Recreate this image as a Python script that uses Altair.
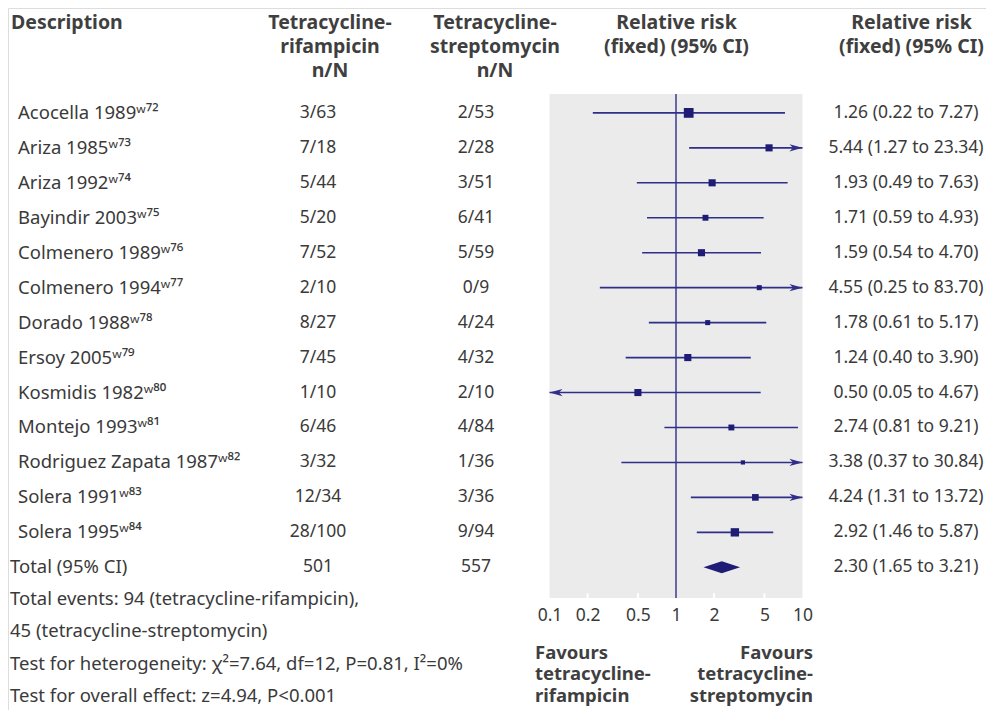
import altair as alt
import pandas as pd
import numpy as np

# ---------------- data ----------------
studies = ["Acocella 1989", "Ariza 1985", "Ariza 1992", "Bayindir 2003",
           "Colmenero 1989", "Colmenero 1994", "Dorado 1988", "Ersoy 2005",
           "Kosmidis 1982", "Montejo 1993", "Rodriguez Zapata 1987",
           "Solera 1991", "Solera 1995"]
refs = ["w72", "w73", "w74", "w75", "w76", "w77", "w78", "w79", "w80",
        "w81", "w82", "w83", "w84"]
rif_n = [3, 7, 5, 5, 7, 2, 8, 7, 1, 6, 3, 12, 28]
rif_N = [63, 18, 44, 20, 52, 10, 27, 45, 10, 46, 32, 34, 100]
strep_n = [2, 2, 3, 6, 5, 0, 4, 4, 2, 4, 1, 3, 9]
strep_N = [53, 28, 51, 41, 59, 9, 24, 32, 10, 84, 36, 36, 94]
rr = [1.26, 5.44, 1.93, 1.71, 1.59, 4.55, 1.78, 1.24, 0.50, 2.74, 3.38, 4.24, 2.92]
rr_lo = [0.22, 1.27, 0.49, 0.59, 0.54, 0.25, 0.61, 0.40, 0.05, 0.81, 0.37, 1.31, 1.46]
rr_hi = [7.27, 23.34, 7.63, 4.93, 4.70, 83.70, 5.17, 3.90, 4.67, 9.21, 30.84, 13.72, 5.87]
weight = [15.0, 8.0, 8.0, 5.5, 8.0, 4.0, 4.0, 8.0, 8.0, 5.5, 2.8, 7.0, 11.0]

total_label = "Total (95% CI)"
total_rr = [2.30, 1.65, 3.21]
axis_ticks = [0.1, 0.2, 0.5, 1, 2, 5, 10]
axis_domain = [0.1, 10]

notes = ["Total events: 94 (tetracycline-rifampicin),",
         "\u00a045 (tetracycline-streptomycin)",
         "Test for heterogeneity: \u03c7\u00b2=7.64, df=12, P=0.81, I\u00b2=0%",
         "Test for overall effect: z=4.94, P<0.001"]

# ---------------- styling ----------------
FONT = "Noto Sans"
FS = 18.5     # descriptive text
NFS = 17.5    # numeric columns
HFS = 19.5    # headers
TXT = "#3a3a3a"
HDR = "#3f3f3f"
NAVY = "#1e1c74"
LINE = "#2f2e88"
BG = "#ebebeb"
W, H = 978, 702

SUP = str.maketrans("0123456789w", "\u2070\u00b9\u00b2\u00b3\u2074\u2075\u2076\u2077\u2078\u2079\u02b7")

n = len(studies)
df = pd.DataFrame({
    "row": np.arange(1, n + 1),
    "label": [s + r.translate(SUP) for s, r in zip(studies, refs)],
    "rif": [f"{a}/{b}" for a, b in zip(rif_n, rif_N)],
    "strep": [f"{a}/{b}" for a, b in zip(strep_n, strep_N)],
    "rr": rr, "lo": rr_lo, "hi": rr_hi, "weight": weight,
})
df["rrtxt"] = [f"{a:.2f} ({b:.2f} to {c:.2f})" for a, b, c in zip(rr, rr_lo, rr_hi)]
df["lo_c"] = np.clip(df["lo"], axis_domain[0], axis_domain[1])
df["hi_c"] = np.clip(df["hi"], axis_domain[0], axis_domain[1])

total_row = n + 1
tot = pd.DataFrame({"row": [total_row], "label": [total_label],
                    "rif": [str(sum(rif_N))], "strep": [str(sum(strep_N))],
                    "rrtxt": [f"{total_rr[0]:.2f} ({total_rr[1]:.2f} to {total_rr[2]:.2f})"]})

right_arrows = df[df["hi"] > axis_domain[1]].assign(xa=axis_domain[1])
left_arrows = df[df["lo"] < axis_domain[0]].assign(xa=axis_domain[0])

half = 0.17
diamond = pd.DataFrame({"x": [total_rr[1], total_rr[0], total_rr[2]],
                        "y1": [total_row, total_row - half, total_row],
                        "y2": [total_row, total_row + half, total_row]})

box = pd.DataFrame({"x1": [axis_domain[0]], "x2": [axis_domain[1]],
                    "y1": [0.46], "y2": [14.88]})
inner_ticks = pd.DataFrame({"t": [t for t in axis_ticks if t not in (0.1, 1, 10)],
                            "y1": [14.74] * 4, "y2": [14.88] * 4})

# ---------------- scales ----------------
xs = alt.Scale(type="log", domain=axis_domain, range=[541.5, 794.5], nice=False)
ys = alt.Scale(domain=[1, 14], range=[104.9, 559.3], nice=False, zero=False)

def Y(f="row"):
    return alt.Y(f"{f}:Q", scale=ys, axis=None)

# ---------------- forest plot layers ----------------
bg = alt.Chart(box).mark_rect(color=BG).encode(
    x=alt.X("x1:Q", scale=xs,
            axis=alt.Axis(values=axis_ticks, format="~g", domain=False, ticks=False,
                          tickSize=0, grid=False, labelFont=FONT, labelFontSize=NFS,
                          labelColor=TXT, labelPadding=22.7, labelBaseline="alphabetic",
                          offset=590 - H, title=None, labelFlush=False)),
    x2="x2:Q", y=Y("y1"), y2="y2:Q")

ticks_layer = alt.Chart(inner_ticks).mark_rule(color="white", strokeWidth=2).encode(
    x=alt.X("t:Q", scale=xs), y=Y("y1"), y2="y2:Q")

vline = alt.Chart(box).mark_rule(color=LINE, strokeWidth=1.4).encode(
    x=alt.datum(1, scale=xs), y=Y("y1"), y2="y2:Q")

ci = alt.Chart(df).mark_rule(color=LINE, strokeWidth=1.6).encode(
    x=alt.X("lo_c:Q", scale=xs), x2="hi_c:Q", y=Y())

squares = alt.Chart(df).mark_square(color=NAVY, opacity=1, filled=True).encode(
    x=alt.X("rr:Q", scale=xs), y=Y(),
    size=alt.Size("weight:Q", scale=alt.Scale(domain=[0, 15], range=[0, 95]), legend=None))

rarrow = alt.Chart(right_arrows).mark_point(
    shape="M 0 0 L -2 -0.56 L -1.45 0 L -2 0.56 Z", filled=True, opacity=1,
    color=LINE, size=170).encode(x=alt.X("xa:Q", scale=xs), y=Y())
larrow = alt.Chart(left_arrows).mark_point(
    shape="M 0 0 L 2 -0.56 L 1.45 0 L 2 0.56 Z", filled=True, opacity=1,
    color=LINE, size=170).encode(x=alt.X("xa:Q", scale=xs), y=Y())

dia = alt.Chart(diamond).mark_area(color=NAVY, opacity=1).encode(
    x=alt.X("x:Q", scale=xs), y=Y("y1"), y2="y2:Q")

# ---------------- text columns ----------------
def tcol(data, field, x, align="center", fs=FS):
    return alt.Chart(data).mark_text(align=align, baseline="middle", font=FONT,
                                     fontSize=fs, color=TXT).encode(
        x=alt.value(x), y=Y(), text=f"{field}:N")

names = tcol(df, "label", 10, align="left")
tname = tcol(tot, "label", 2, align="left")
c1 = tcol(pd.concat([df, tot]), "rif", 310, fs=NFS)
c2 = tcol(pd.concat([df, tot]), "strep", 468, fs=NFS)
c3 = tcol(pd.concat([df, tot]), "rrtxt", 898, fs=NFS)

note_df = pd.DataFrame({"t": notes, "i": range(len(notes))})
note_layer = alt.Chart(note_df).mark_text(align="left", baseline="middle", font=FONT,
                                          fontSize=FS, color=TXT).encode(
    x=alt.value(2),
    y=alt.Y("i:Q", scale=alt.Scale(domain=[0, 3], range=[591.0, 688.0]), axis=None),
    text="t:N")

def header(txt, x, y, align="center", lh=24, fs=HFS):
    return alt.Chart(pd.DataFrame({"t": [txt]})).mark_text(
        align=align, baseline="alphabetic", font=FONT, fontSize=fs, fontWeight="bold",
        color=HDR, lineBreak="\n", lineHeight=lh).encode(
        x=alt.value(x), y=alt.value(y), text="t:N")

headers = [
    header("Description", 3, 20.5, align="left"),
    header("Tetracycline-\nrifampicin\nn/N", 322, 20.5),
    header("Tetracycline-\nstreptomycin\nn/N", 487, 20.5),
    header("Relative risk\n(fixed) (95% CI)", 668.5, 20.5),
    header("Relative risk\n(fixed) (95% CI)", 903.5, 20.5),
    header("Favours\ntetracycline-\nrifampicin", 527, 650.5, align="left", lh=21.5, fs=18.5),
    header("Favours\ntetracycline-\nstreptomycin", 805, 650.5, align="right", lh=21.5, fs=18.5),
]

chart = alt.layer(
    bg, ticks_layer, vline, ci, rarrow, larrow, squares, dia,
    names, tname, c1, c2, c3, note_layer, *headers
).resolve_scale(y="independent").properties(
    width=W, height=H, padding=0, autosize="none"
).configure_view(stroke=None).configure(background="white")

chart.save("out.html", embed_options={"renderer": "svg", "actions": False})
